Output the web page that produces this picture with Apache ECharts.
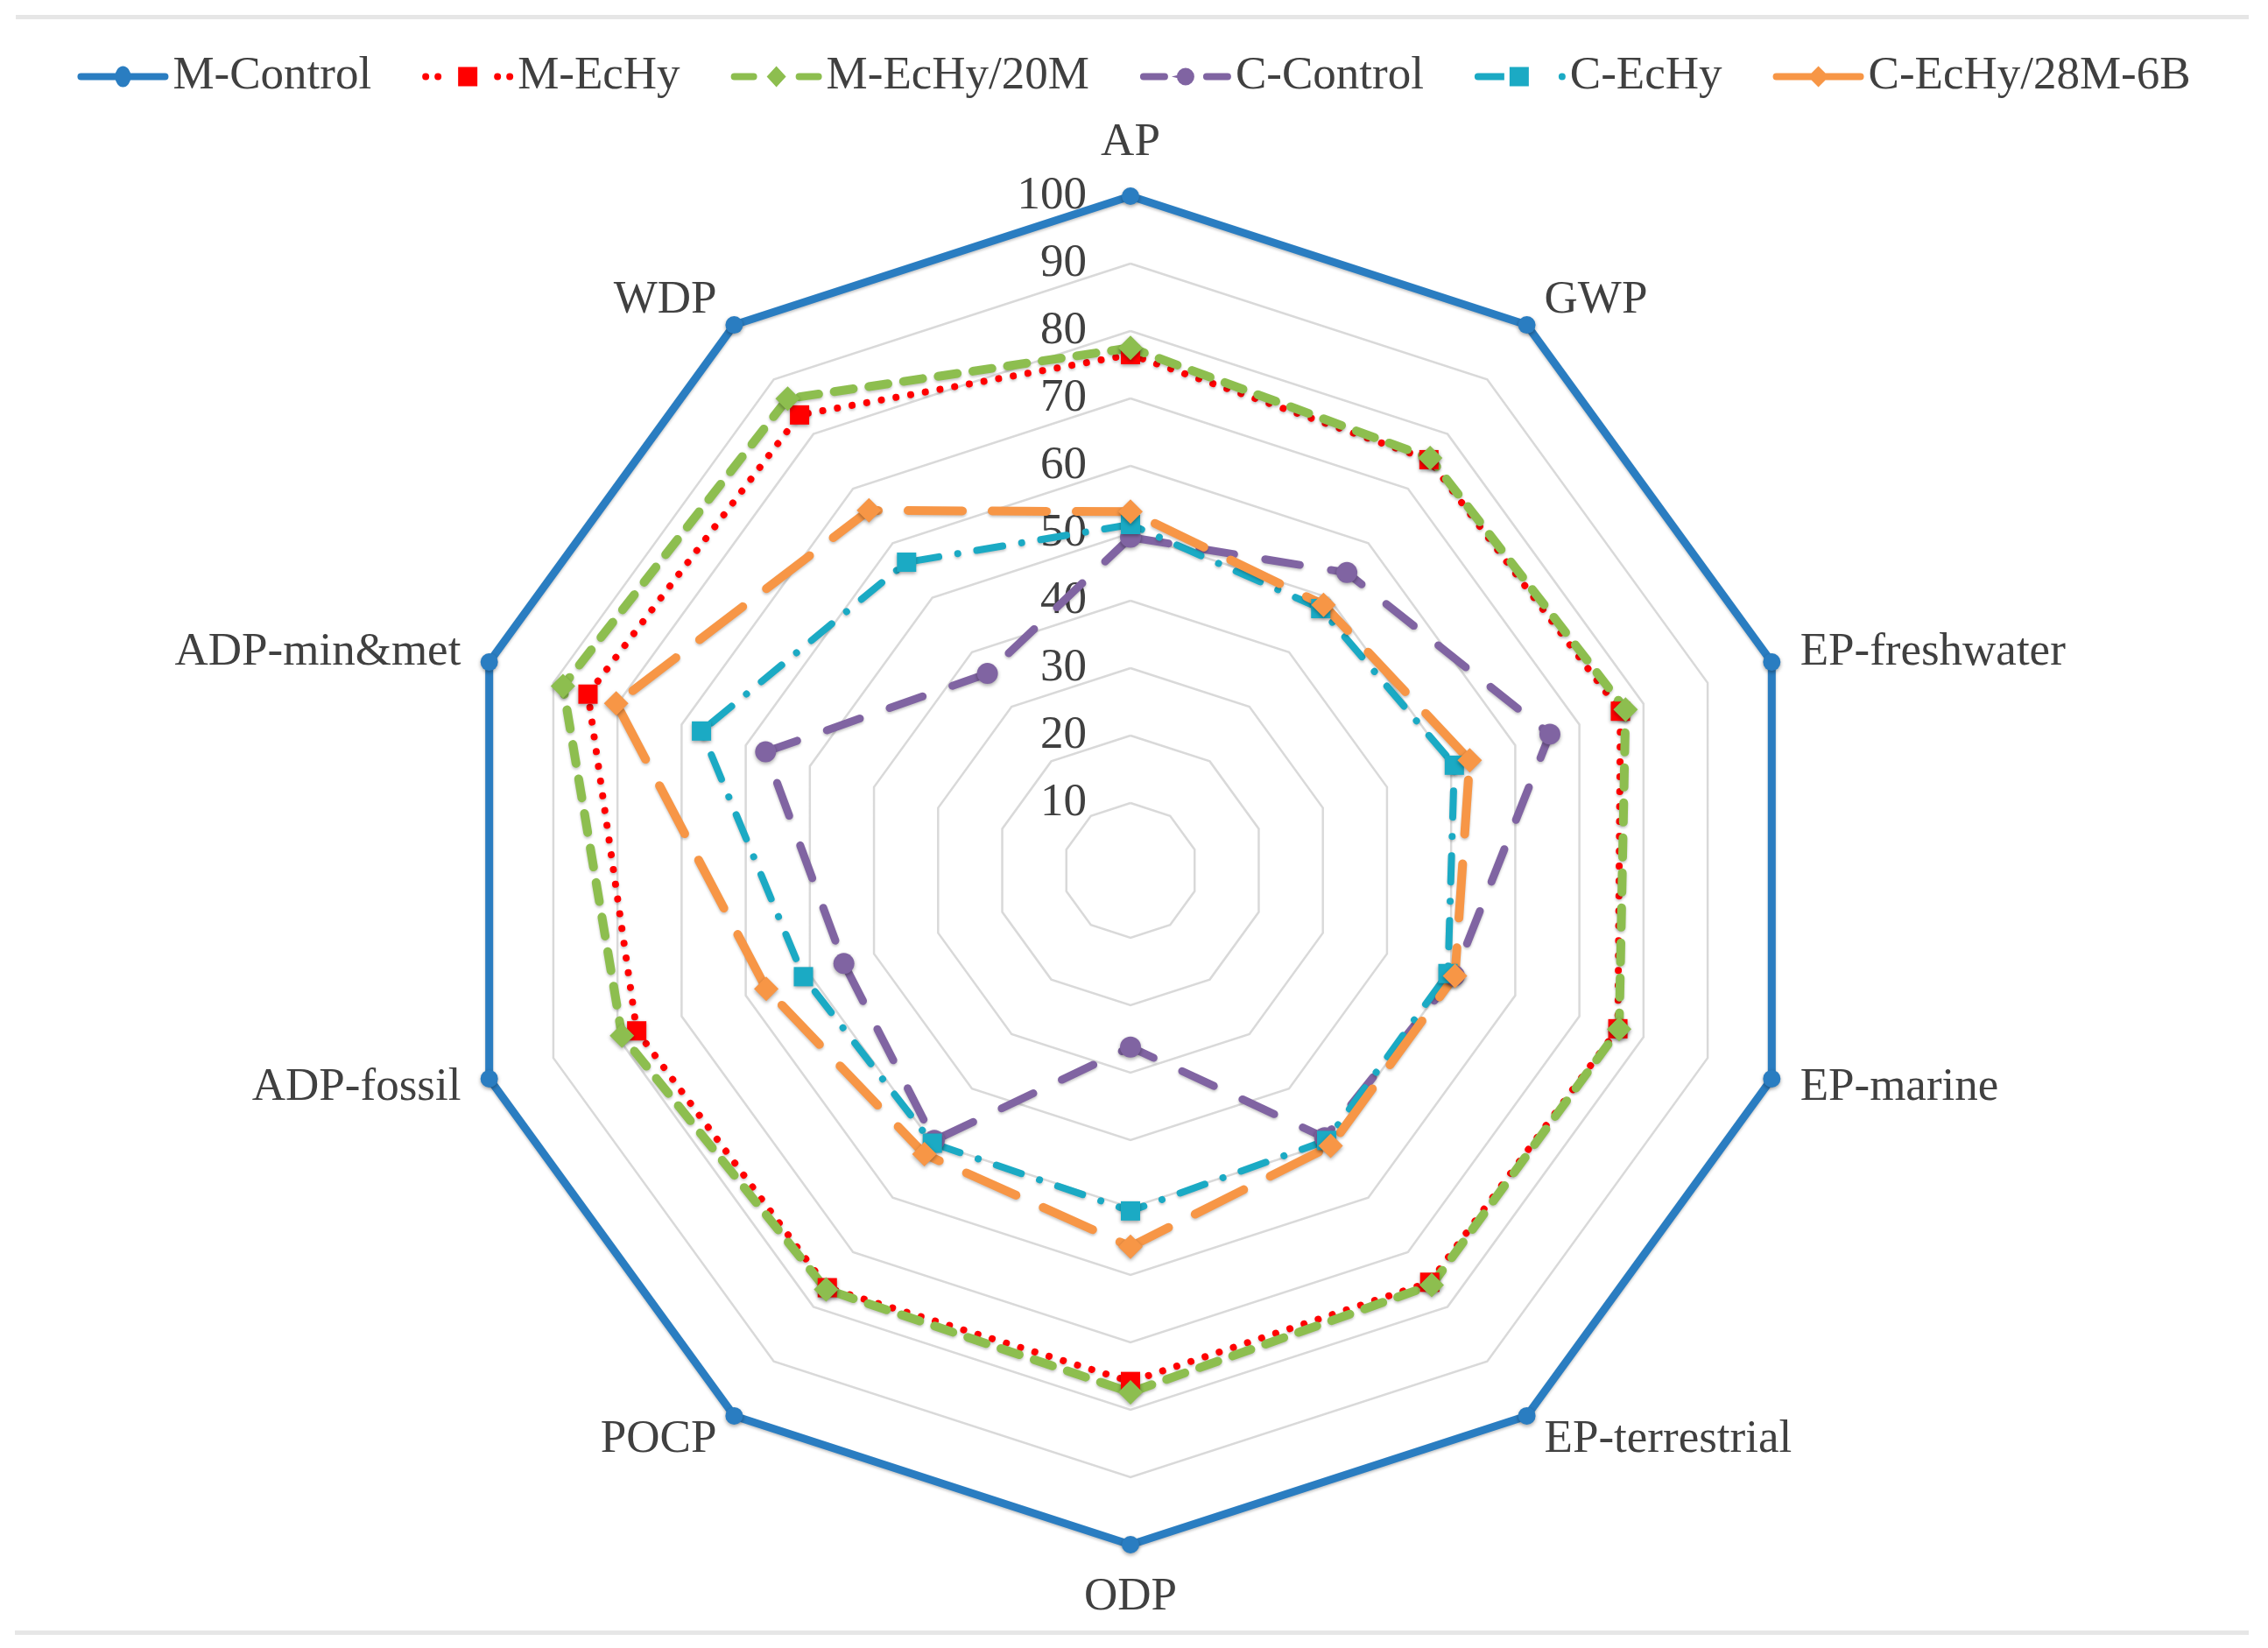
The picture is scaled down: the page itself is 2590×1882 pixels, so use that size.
<!DOCTYPE html>
<html>
<head>
<meta charset="utf-8">
<script src="https://cdn.jsdelivr.net/npm/echarts@6/dist/echarts.min.js"></script>
<style>
html,body{margin:0;padding:0;background:#fff;}
#chart{width:2590px;height:1882px;}
</style>
</head>
<body>
<div id="chart"></div>
<script>
// Categories in clockwise order starting at the top
const categories = ['AP', 'GWP', 'EP-freshwater', 'EP-marine', 'EP-terrestrial', 'ODP', 'POCP', 'ADP-fossil', 'ADP-min&met', 'WDP'];
const seriesNames = ['M-Control', 'M-EcHy', 'M-EcHy/20M', 'C-Control', 'C-EcHy', 'C-EcHy/28M-6B'];
const mControl   = [100, 100, 100, 100, 100, 100, 100, 100, 100, 100];
const mEcHy      = [76.5, 75.3, 76.4, 76.0, 75.5, 75.8, 76.5, 77.0, 84.6, 83.5];
const mEcHy20M   = [77.5, 75.6, 77.2, 76.2, 76.0, 77.4, 76.8, 79.3, 88.5, 86.5];
const cControl   = [49.4, 54.6, 65.4, 50.5, 49.0, 26.2, 49.5, 44.7, 56.9, 36.1];
const cEcHy      = [51.3, 48.0, 50.5, 49.5, 49.5, 50.5, 50.0, 51.0, 66.9, 56.5];
const cEcHy28M6B = [53.2, 48.7, 52.9, 50.6, 50.5, 55.8, 52.0, 56.8, 80.2, 66.0];
const axisMax = 100;
const tickCount = 10;

// ECharts radar places indicators counter-clockwise; reorder to keep the clockwise layout
function toCCW(arr) { return [arr[0]].concat(arr.slice(1).reverse()); }

const textColor = '#404040';
const fontFamily = 'Liberation Serif';

const indicator = toCCW(categories).map(function (c, i) {
  const ind = { name: c, max: axisMax, min: 0 };
  if (i === 0) {
    ind.axisLabel = {
      show: true, color: textColor, fontSize: 53, fontFamily: fontFamily, margin: 50,
      showMinLabel: false,
      formatter: function (v) { return v === 0 ? '' : String(v); }
    };
  }
  return ind;
});

const styles = [
  { color: '#2A7DC1', width: 9, type: 'solid', symbol: 'circle', size: 20 },
  { color: '#FF0000', width: 8, type: [0.01, 17], symbol: 'rect', size: 22 },
  { color: '#8DBE4F', width: 10, type: [22, 18], symbol: 'diamond', size: 28 },
  { color: '#8064A2', width: 9, type: [40, 36], symbol: 'circle', size: 24 },
  { color: '#1BAAC4', width: 8, type: [30, 22, 0.01, 22], symbol: 'rect', size: 22 },
  { color: '#F79646', width: 10, type: [62, 34], symbol: 'diamond', size: 28 }
];
const allData = [mControl, mEcHy, mEcHy20M, cControl, cEcHy, cEcHy28M6B];

const icons = [
  'path://M4,8 L100,8 A4,4 0 0 1 100,16 L4,16 A4,4 0 0 1 4,8 Z M52,0 A9,12 0 1 1 52,24 A9,12 0 1 1 52,0 Z',
  'path://M0,12 A4,4 0 1 1 8,12 A4,4 0 1 1 0,12 Z M14,12 A4,4 0 1 1 22,12 A4,4 0 1 1 14,12 Z M82,12 A4,4 0 1 1 90,12 A4,4 0 1 1 82,12 Z M96,12 A4,4 0 1 1 104,12 A4,4 0 1 1 96,12 Z M41,1 L63,1 L63,23 L41,23 Z M52,0 L52,0 M52,24 L52,24',
  'path://M4,8 L26,8 A4,4 0 0 1 26,16 L4,16 A4,4 0 0 1 4,8 Z M78,8 L100,8 A4,4 0 0 1 100,16 L78,16 A4,4 0 0 1 78,8 Z M52,0 L63,12 L52,24 L41,12 Z',
  'path://M4,8 L28,8 A4,4 0 0 1 28,16 L4,16 A4,4 0 0 1 4,8 Z M76,8 L100,8 A4,4 0 0 1 100,16 L76,16 A4,4 0 0 1 76,8 Z M36,12 L52,8 L52,16 Z M52,2 A10,10 0 1 1 52,22 A10,10 0 1 1 52,2 Z M52,0 L52,0 M52,24 L52,24',
  'path://M4,8 L34,8 L34,16 L4,16 A4,4 0 0 1 4,8 Z M40,1 L62,1 L62,23 L40,23 Z M96,12 A4,4 0 1 1 104,12 A4,4 0 1 1 96,12 Z M52,0 L52,0 M52,24 L52,24',
  'path://M4,8 L100,8 A4,4 0 0 1 100,16 L4,16 A4,4 0 0 1 4,8 Z M52,0 L64,12 L52,24 L40,12 Z'
];

const series = [{
  type: 'radar',
  data: seriesNames.map(function (n, i) {
    const s = styles[i];
    return {
      name: n,
      value: toCCW(allData[i]),
      symbol: s.symbol,
      symbolSize: s.size,
      itemStyle: { color: s.color, shadowBlur: 4, shadowColor: 'rgba(0,0,0,0.35)', shadowOffsetY: 2 },
      lineStyle: { color: s.color, width: s.width, type: s.type, cap: 'round', join: 'round',
                   shadowBlur: 3, shadowColor: 'rgba(0,0,0,0.22)', shadowOffsetY: 2 }
    };
  })
}];

const chart = echarts.init(document.getElementById('chart'), null, { renderer: 'canvas' });
chart.setOption({
  backgroundColor: '#ffffff',
  animation: false,
  legend: {
    top: 56,
    left: 'center',
    itemWidth: 104,
    itemHeight: 24,
    itemGap: 58,
    textStyle: { color: textColor, fontSize: 53, fontFamily: fontFamily },
    data: seriesNames.map(function (n, i) { return { name: n, icon: icons[i] }; })
  },
  radar: {
    center: [1291, 994],
    radius: 770,
    startAngle: 90,
    splitNumber: tickCount,
    shape: 'polygon',
    nameGap: 34,
    axisName: { color: textColor, fontSize: 53, fontFamily: fontFamily },
    indicator: indicator,
    splitLine: { lineStyle: { color: '#d9d9d9', width: 2.5 } },
    splitArea: { show: false },
    axisLine: { show: false },
    axisTick: { show: false },
    axisLabel: { show: false }
  },
  graphic: [
    { type: 'rect', shape: { x: 18, y: 17, width: 2550, height: 5 }, style: { fill: '#e6e6e6' }, silent: true },
    { type: 'rect', shape: { x: 17, y: 1862, width: 2551, height: 5 }, style: { fill: '#e6e6e6' }, silent: true }
  ],
  series: series
});
</script>
</body>
</html>
